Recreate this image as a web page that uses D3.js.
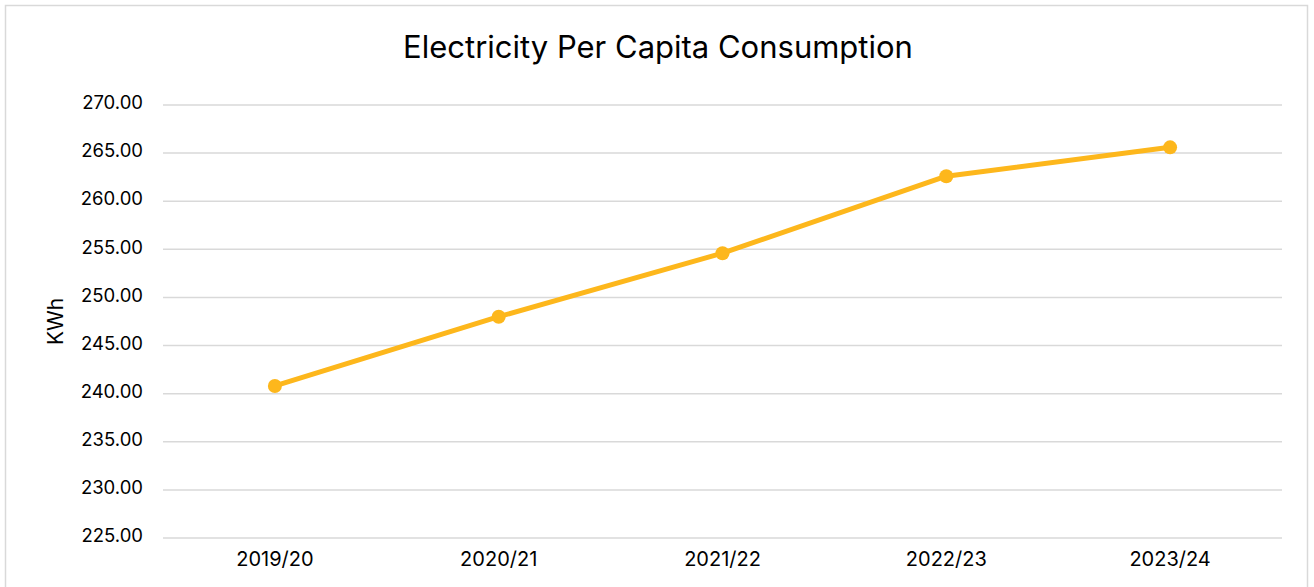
<!DOCTYPE html>
<html>
<head>
<meta charset="utf-8">
<script src="https://cdn.jsdelivr.net/npm/d3@7"></script>
<style>
  html, body { margin: 0; padding: 0; background: #fff; }
  svg { display: block; font-family: Inter, "Noto Sans", sans-serif; }
</style>
</head>
<body>
<svg id="chart" width="1314" height="587"></svg>
<script>
// Electricity consumption per capita (kWh) by financial year
const years = ["2019/20", "2020/21", "2021/22", "2022/23", "2023/24"];
const perCapitaKWh = [240.8, 248.0, 254.6, 262.6, 265.6];
const yTicks = [225, 230, 235, 240, 245, 250, 255, 260, 265, 270];

const svg = d3.select("#chart");
const W = 1314, H = 587;
const margin = { left: 163, right: 32, top: 105, bottom: 49 };
const FONT = "Inter, 'Noto Sans', sans-serif";

// Outer chart frame
svg.append("rect")
  .attr("x", 5.5).attr("y", 5.5)
  .attr("width", 1302).attr("height", 600)
  .attr("fill", "#fff").attr("stroke", "#d9d9d9").attr("stroke-width", 1.5);

const x = d3.scaleBand()
  .domain(years)
  .range([margin.left, W - margin.right]);

const y = d3.scaleLinear()
  .domain([225, 270])
  .range([H - margin.bottom, margin.top]);

// Horizontal gridlines
svg.append("g")
  .selectAll("line")
  .data(yTicks)
  .join("line")
  .attr("x1", margin.left).attr("x2", W - margin.right)
  .attr("y1", d => y(d)).attr("y2", d => y(d))
  .attr("stroke", "#d9d9d9").attr("stroke-width", 1.5);

// Y axis labels
const yAxis = d3.axisLeft(y).tickValues(yTicks).tickFormat(d3.format(".2f")).tickSize(0).tickPadding(20);
const gy = svg.append("g").attr("transform", `translate(${margin.left},0)`).call(yAxis);
gy.select(".domain").remove();
gy.selectAll("text")
  .attr("font-size", 18.5).attr("fill", "#000").attr("font-family", FONT)
  .attr("dy", "0.2em");

// X axis labels
const xAxis = d3.axisBottom(x).tickSize(0).tickPadding(14);
const gx = svg.append("g").attr("transform", `translate(0,${H - margin.bottom})`).call(xAxis);
gx.select(".domain").remove();
gx.selectAll("text").attr("font-size", 20).attr("fill", "#000").attr("font-family", FONT);

// Y axis title
svg.append("text")
  .attr("transform", `translate(63,${(margin.top + H - margin.bottom) / 2}) rotate(-90)`)
  .attr("text-anchor", "middle")
  .attr("font-size", 21).attr("fill", "#000")
  .text("KWh");

// Chart title
svg.append("text")
  .attr("x", 658).attr("y", 58)
  .attr("text-anchor", "middle")
  .attr("font-size", 31).attr("fill", "#000")
  .text("Electricity Per Capita Consumption");

const cx = d => x(d) + x.bandwidth() / 2;
const series = years.map((yr, i) => ({ yr, v: perCapitaKWh[i] }));

// Line
svg.append("path")
  .datum(series)
  .attr("fill", "none")
  .attr("stroke", "#FDB71C")
  .attr("stroke-width", 5)
  .attr("stroke-linejoin", "round")
  .attr("d", d3.line().x(d => cx(d.yr)).y(d => y(d.v)));

// Markers
svg.append("g")
  .selectAll("circle")
  .data(series)
  .join("circle")
  .attr("cx", d => cx(d.yr))
  .attr("cy", d => y(d.v))
  .attr("r", 7)
  .attr("fill", "#FDB71C");
</script>
</body>
</html>
